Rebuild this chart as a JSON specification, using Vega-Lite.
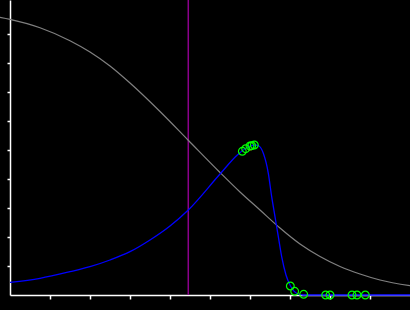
{
  "$schema": "https://vega.github.io/schema/vega-lite/v6.json",
  "width": 400,
  "height": 295,
  "autosize": "none",
  "padding": {"left": 10, "top": 0, "right": 0, "bottom": 15},
  "background": "#000000",
  "config": {
    "view": {"stroke": null},
    "axis": {
      "domainColor": "#ffffff",
      "domainWidth": 1.5,
      "tickColor": "#ffffff",
      "tickWidth": 1.5,
      "labels": false,
      "grid": false,
      "title": null,
      "tickCount": 20
    }
  },
  "datasets": {
    "grey": [
      {"x": -0.25, "y": 9.576},
      {"x": 0, "y": 9.507},
      {"x": 0.75, "y": 9.217},
      {"x": 1.5, "y": 8.769},
      {"x": 2.0, "y": 8.379},
      {"x": 2.5, "y": 7.897},
      {"x": 3.0, "y": 7.31},
      {"x": 3.75, "y": 6.328},
      {"x": 4.45, "y": 5.345},
      {"x": 5.25, "y": 4.224},
      {"x": 5.75, "y": 3.552},
      {"x": 6.25, "y": 2.931},
      {"x": 6.75, "y": 2.31},
      {"x": 7.25, "y": 1.759},
      {"x": 7.75, "y": 1.328},
      {"x": 8.25, "y": 0.983},
      {"x": 8.75, "y": 0.724},
      {"x": 9.25, "y": 0.517},
      {"x": 10, "y": 0.321}
    ],
    "blue": [
      {"x": 0, "y": 0.438},
      {"x": 0.75, "y": 0.576},
      {"x": 1.5, "y": 0.803},
      {"x": 2.0, "y": 0.976},
      {"x": 2.5, "y": 1.207},
      {"x": 3.0, "y": 1.493},
      {"x": 3.5, "y": 1.897},
      {"x": 4.0, "y": 2.379},
      {"x": 4.457, "y": 2.931},
      {"x": 5.267, "y": 4.197},
      {"x": 5.683, "y": 4.828},
      {"x": 5.95, "y": 5.103},
      {"x": 6.125, "y": 5.172},
      {"x": 6.225, "y": 5.138},
      {"x": 6.333, "y": 4.886},
      {"x": 6.458, "y": 4.197},
      {"x": 6.542, "y": 3.39},
      {"x": 6.625, "y": 2.7},
      {"x": 6.708, "y": 2.01},
      {"x": 6.792, "y": 1.321},
      {"x": 6.9, "y": 0.69},
      {"x": 7.0, "y": 0.345},
      {"x": 7.167, "y": 0.059},
      {"x": 7.325, "y": 0},
      {"x": 10, "y": 0}
    ],
    "red": [
      {"x": 5.96, "y": 4.988},
      {"x": 6.07, "y": 5.034}
    ],
    "points": [
      {"x": 5.808, "y": 4.955},
      {"x": 5.892, "y": 5.045},
      {"x": 6.0, "y": 5.138},
      {"x": 6.042, "y": 5.148},
      {"x": 6.108, "y": 5.172},
      {"x": 7.008, "y": 0.31},
      {"x": 7.117, "y": 0.128},
      {"x": 7.342, "y": 0.024},
      {"x": 7.892, "y": 0},
      {"x": 8.0, "y": 0},
      {"x": 8.55, "y": 0},
      {"x": 8.675, "y": 0},
      {"x": 8.883, "y": 0}
    ],
    "marker": [{"x": 4.457}]
  },
  "encoding": {
    "x": {
      "field": "x",
      "type": "quantitative",
      "scale": {"domain": [0, 10], "nice": false, "zero": false},
      "axis": {"values": [1, 2, 3, 4, 5, 6, 7, 8, 9], "tickSize": 4, "tickCount": 20}
    }
  },
  "layer": [
    {
      "data": {"name": "marker"},
      "mark": {"type": "rule", "color": "#8b008b", "strokeWidth": 1.5}
    },
    {
      "data": {"name": "grey"},
      "mark": {"type": "line", "color": "#808080", "strokeWidth": 1.2, "interpolate": "monotone"},
      "encoding": {
        "y": {
          "field": "y",
          "type": "quantitative",
          "scale": {"domain": [0, 10.1724], "nice": false, "zero": false},
          "axis": {"values": [1, 2, 3, 4, 5, 6, 7, 8, 9], "tickSize": 3, "tickCount": 20}
        }
      }
    },
    {
      "data": {"name": "blue"},
      "mark": {"type": "line", "color": "#0000ff", "strokeWidth": 1.3, "interpolate": "monotone"},
      "encoding": {"y": {"field": "y", "type": "quantitative"}}
    },
    {
      "data": {"name": "red"},
      "mark": {"type": "line", "color": "#ff0000", "strokeWidth": 1.5},
      "encoding": {"y": {"field": "y", "type": "quantitative"}}
    },
    {
      "data": {"name": "points"},
      "mark": {"type": "point", "shape": "circle", "filled": false, "color": "#00ff00", "strokeWidth": 1.2, "size": 60, "opacity": 1},
      "encoding": {"y": {"field": "y", "type": "quantitative"}}
    }
  ]
}
